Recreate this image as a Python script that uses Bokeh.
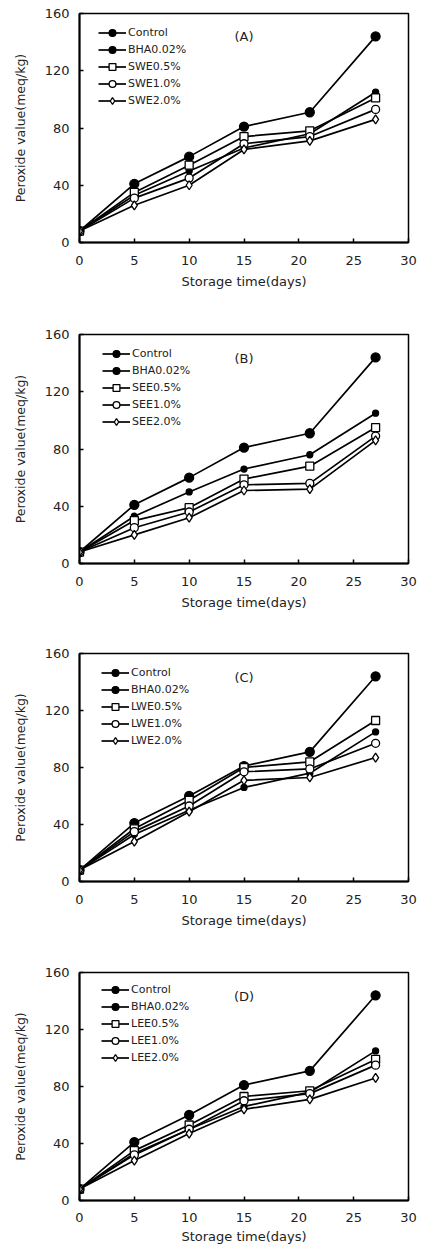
from bokeh.plotting import figure
from bokeh.layouts import column
from bokeh.models import Legend, LegendItem, FixedTicker, Range1d, Label
from bokeh.embed import file_html
from bokeh.resources import INLINE

# ---- data ----
days = [0, 5, 10, 15, 21, 27]
control = [8, 41, 60, 81, 91, 144]
bha = [8, 33, 50, 66, 76, 105]

swe_05 = [8, 35, 54, 74, 78, 101]
swe_10 = [8, 31, 45, 69, 74, 93]
swe_20 = [8, 26, 40, 65, 71, 86]

see_05 = [8, 30, 39, 59, 68, 95]
see_10 = [8, 25, 36, 55, 56, 89]
see_20 = [8, 20, 32, 51, 52, 86]

lwe_05 = [8, 37, 57, 80, 84, 113]
lwe_10 = [8, 35, 53, 77, 79, 97]
lwe_20 = [8, 28, 49, 71, 73, 87]

lee_05 = [8, 35, 53, 73, 77, 99]
lee_10 = [8, 32, 50, 70, 75, 95]
lee_20 = [8, 28, 47, 64, 71, 86]

x_ticks = [0, 5, 10, 15, 20, 25, 30]
y_ticks = [0, 40, 80, 120, 160]

panel_tags = ["(A)", "(B)", "(C)", "(D)"]
extract_names = ["SWE", "SEE", "LWE", "LEE"]
extract_series = [
    [swe_05, swe_10, swe_20],
    [see_05, see_10, see_20],
    [lwe_05, lwe_10, lwe_20],
    [lee_05, lee_10, lee_20],
]
dose_labels = ["0.5%", "1.0%", "2.0%"]

x_title = "Storage time(days)"
y_title = "Peroxide value(meq/kg)"

# ---- layout / style ----
FONT = "DejaVu Sans"
FIG_W = 430
# (height, border_left, frame_w, border_top, frame_h, legend_x, legend_first_row, tick_standoff, title_standoff, tag_y)
layouts = [
    (310, 79, 338, 13, 229, 19, 19, 13, 6, 144),
    (310, 77, 338, 24, 229, 23, 19, 13, 6, 143),
    (310, 75, 335, 33, 228, 22, 19, 13, 6, 143),
    (317, 73, 335, 42, 228, 22, 17, 12, 4, 143),
]
ROW = 17

styles = [
    dict(marker="circle", size=9, fill_color="black"),
    dict(marker="circle", size=6, fill_color="black"),
    dict(marker="square", size=8, fill_color="white"),
    dict(marker="circle", size=8, fill_color="white"),
    dict(marker="diamond", size=9, fill_color="white"),
]

figs = []
for i in range(4):
    H, bl, fw, bt, fh, lx, lrow, tstand, astand, tag_y = layouts[i]
    br = FIG_W - bl - fw
    bb = H - bt - fh
    p = figure(width=FIG_W, height=H, x_range=Range1d(0, 30), y_range=Range1d(0, 160),
               output_backend="svg", toolbar_location=None,
               min_border_left=bl, min_border_right=br,
               min_border_top=bt, min_border_bottom=bb)
    p.grid.visible = False
    p.outline_line_color = "black"
    p.outline_line_width = 1.5
    p.outline_line_alpha = 1.0
    p.background_fill_color = "white"
    p.border_fill_color = "white"

    p.xaxis.ticker = FixedTicker(ticks=x_ticks)
    p.yaxis.ticker = FixedTicker(ticks=y_ticks)
    for ax in (p.xaxis[0], p.yaxis[0]):
        ax.major_tick_in = 4
        ax.major_tick_out = 0
        ax.minor_tick_in = 0
        ax.minor_tick_out = 0
        ax.axis_line_width = 2
        ax.axis_line_color = "black"
        ax.major_tick_line_color = "black"
        ax.major_tick_line_width = 1.5
        ax.major_label_text_font = FONT
        ax.major_label_text_font_size = "13px"
        ax.major_label_text_color = "#222222"
        ax.axis_label_text_font = FONT
        ax.axis_label_text_font_style = "normal"
        ax.axis_label_text_color = "#222222"
    p.xaxis.axis_label_text_font_size = "13px"
    p.yaxis.axis_label_text_font_size = "12.5px"
    p.xaxis.axis_label = x_title
    p.yaxis.axis_label = y_title
    p.xaxis.major_label_standoff = tstand
    p.xaxis.axis_label_standoff = astand
    p.yaxis.major_label_standoff = 10
    p.yaxis.axis_label_standoff = 14

    names = ["Control", "BHA0.02%"] + [extract_names[i] + d for d in dose_labels]
    series = [control, bha] + extract_series[i]

    items = []
    for name, ys, st in zip(names, series, styles):
        rl = p.line(days, ys, line_color="black", line_width=1.7)
        rm = p.scatter(days, ys, marker=st["marker"], size=st["size"],
                       fill_color=st["fill_color"], line_color="black", line_width=1.3)
        items.append(LegendItem(label=name, renderers=[rl, rm]))

    legend_bottom = fh - (lrow - ROW / 2) - ROW * len(items)
    legend = Legend(items=items, location=(lx, legend_bottom),
                    padding=0, margin=0, spacing=0,
                    glyph_width=28, glyph_height=ROW, label_height=ROW,
                    label_standoff=2, label_text_font=FONT,
                    label_text_font_size="11px", label_text_color="#222222",
                    background_fill_alpha=0, border_line_alpha=0)
    p.add_layout(legend)

    p.add_layout(Label(x=15, y=tag_y, text=panel_tags[i], text_align="center",
                       text_baseline="middle", text_font=FONT,
                       text_font_size="13px", text_color="#222222"))
    figs.append(p)

layout = column(*figs, spacing=0)
open("out.html", "w").write(file_html(layout, INLINE))
